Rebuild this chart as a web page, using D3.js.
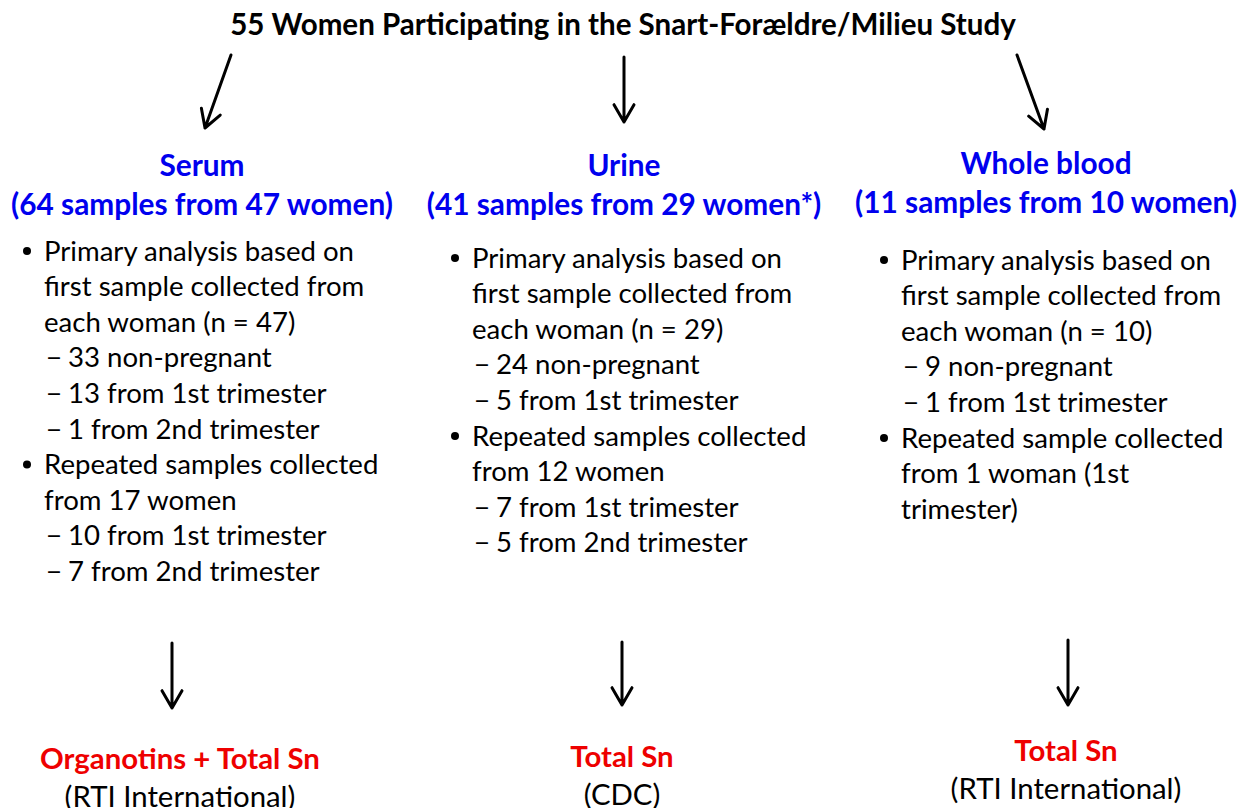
<!DOCTYPE html>
<html lang="en">
<head>
<meta charset="UTF-8">
<title>Snart-Forældre/Milieu Study flow</title>
<script src="https://cdnjs.cloudflare.com/ajax/libs/d3/7.8.5/d3.min.js"></script>
<style>
  body { margin: 0; background: #fff; }
  svg { display: block; font-family: Lato, "Open Sans", sans-serif; }
</style>
</head>
<body>
<div id="chart"></div>
<script>
// ---- data ----
const title = "55 Women Participating in the Snart-Forældre/Milieu Study";
const columns = ["Serum", "Urine", "Whole blood"];
const subtitles = ["(64 samples from 47 women)", "(41 samples from 29 women*)", "(11 samples from 10 women)"];
const serumLines = [
  ["b", "Primary analysis based on"], ["", "first sample collected from"], ["", "each woman (n = 47)"],
  ["d", "33 non-pregnant"], ["d", "13 from 1st trimester"], ["d", "1 from 2nd trimester"],
  ["b", "Repeated samples collected"], ["", "from 17 women"],
  ["d", "10 from 1st trimester"], ["d", "7 from 2nd trimester"]
];
const urineLines = [
  ["b", "Primary analysis based on"], ["", "first sample collected from"], ["", "each woman (n = 29)"],
  ["d", "24 non-pregnant"], ["d", "5 from 1st trimester"],
  ["b", "Repeated samples collected"], ["", "from 12 women"],
  ["d", "7 from 1st trimester"], ["d", "5 from 2nd trimester"]
];
const bloodLines = [
  ["b", "Primary analysis based on"], ["", "first sample collected from"], ["", "each woman (n = 10)"],
  ["d", "9 non-pregnant"], ["d", "1 from 1st trimester"],
  ["b", "Repeated sample collected"], ["", "from 1 woman (1st"], ["", "trimester)"]
];
const analytes = ["Organotins + Total Sn", "Total Sn", "Total Sn"];
const labs = ["(RTI International)", "(CDC)", "(RTI International)"];

// ---- layout ----
const W = 1244, H = 808;
const lists = [serumLines, urineLines, bloodLines];
const x = d3.scalePoint().domain(columns).range([202, 1046]);
const headY = [166, 166, 164];
const listLeft = [27, 455, 884];
const listTop = [251, 258, 260];
const bottomY = [759, 757, 751];
const bottomX = [180, 622, 1066];
const lineH = 35.6;

const svg = d3.select("#chart").append("svg").attr("width", W).attr("height", H);

// fit a font size so reference strings get their measured widths (mean factor)
function fitSize(pairs, weight) {
  const t = svg.append("text").attr("font-size", 100).attr("font-weight", weight);
  const f = d3.mean(pairs, ([s, target]) => target / t.text(s).node().getComputedTextLength());
  t.remove();
  return 100 * f;
}
const titleSize = fitSize([[title, 786]], "bold");
const headSize = fitSize([[subtitles[0], 381], [subtitles[1], 396], [subtitles[2], 382]], "bold");
const bodySize = fitSize([["Primary analysis based on", 332], ["first sample collected from", 314],
  ["Repeated samples collected", 328], ["13 from 1st trimester", 251]], "normal");
const redSize = fitSize([[analytes[0], 280]], "bold");
const labSize = fitSize([[labs[0], 231]], "normal");

svg.append("text")
  .attr("x", 623).attr("y", 25).attr("dy", "0.35em")
  .attr("text-anchor", "middle").attr("font-weight", "bold")
  .attr("font-size", titleSize).attr("fill", "#000").text(title);

// arrows
function arrow(x1, y1, x2, y2) {
  const a = Math.atan2(y2 - y1, x2 - x1), L = 20, s = Math.PI / 6;
  const p = d3.path();
  p.moveTo(x1, y1); p.lineTo(x2, y2);
  p.moveTo(x2 - L * Math.cos(a - s), y2 - L * Math.sin(a - s)); p.lineTo(x2, y2);
  p.lineTo(x2 - L * Math.cos(a + s), y2 - L * Math.sin(a + s));
  svg.append("path").attr("d", p.toString()).attr("fill", "none")
    .attr("stroke", "#000").attr("stroke-width", 3).attr("stroke-linecap", "round").attr("stroke-linejoin", "round");
}
arrow(231, 55, 205, 128);
arrow(624, 57, 624, 122);
arrow(1017, 55, 1044, 129);
arrow(172, 643, 172, 708);
arrow(622, 642, 622, 705);
arrow(1068, 640, 1068, 705);

columns.forEach((c, i) => {
  const g = svg.append("g");
  g.append("text").attr("x", x(c)).attr("y", headY[i]).attr("dy", "0.35em")
    .attr("text-anchor", "middle").attr("font-weight", "bold").attr("font-size", headSize)
    .attr("fill", "#0000ee").text(c);
  g.append("text").attr("x", x(c)).attr("y", headY[i] + 39).attr("dy", "0.35em")
    .attr("text-anchor", "middle").attr("font-weight", "bold").attr("font-size", headSize)
    .attr("fill", "#0000ee").text(subtitles[i]);

  const rows = g.selectAll("g.row").data(lists[i]).join("g").attr("class", "row")
    .attr("transform", (d, j) => `translate(${listLeft[i]},${listTop[i] + j * lineH})`);
  rows.filter(d => d[0] === "b").append("circle").attr("cx", 0).attr("cy", 0).attr("r", 4).attr("fill", "#000");
  rows.filter(d => d[0] === "d").append("text").attr("x", 19).attr("dy", "0.35em")
    .attr("font-size", bodySize).attr("fill", "#000").text("\u2212");
  rows.append("text").attr("x", d => d[0] === "d" ? 41 : 17).attr("dy", "0.35em")
    .attr("font-size", bodySize).attr("fill", "#000").text(d => d[1]);

  g.append("text").attr("x", bottomX[i]).attr("y", bottomY[i]).attr("dy", "0.35em")
    .attr("text-anchor", "middle").attr("font-weight", "bold").attr("font-size", redSize)
    .attr("fill", "#ee0000").text(analytes[i]);
  g.append("text").attr("x", bottomX[i]).attr("y", bottomY[i] + 38).attr("dy", "0.35em")
    .attr("text-anchor", "middle").attr("font-size", labSize)
    .attr("fill", "#000").text(labs[i]);
});
</script>
</body>
</html>
